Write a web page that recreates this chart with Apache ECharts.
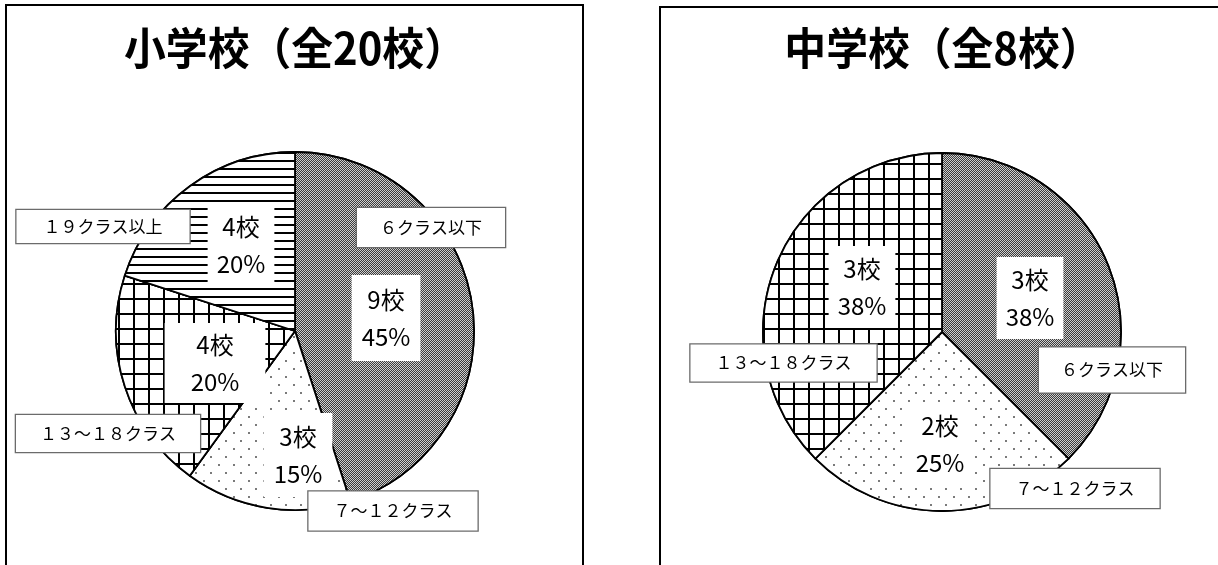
<!DOCTYPE html>
<html>
<head>
<meta charset="utf-8">
<script src="https://cdn.jsdelivr.net/npm/echarts@6/dist/echarts.min.js"></script>
<style>
  html, body { margin: 0; padding: 0; background: #fff; overflow: hidden; }
  #chart { width: 1218px; height: 565px; }
</style>
</head>
<body>
<div id="chart"></div>
<script>
// ---- data ----
const categories = ['６クラス以下', '７～１２クラス', '１３～１８クラス', '１９クラス以上'];
const elementaryCounts = [9, 3, 4, 4];
const juniorHighCounts = [3, 2, 3, 0];
const titles = ['小学校（全20校）', '中学校（全8校）'];
const unit = '校';

// ---- fill patterns, one per class-size band ----
const patterns = [
  // fine 50% dither
  { symbol: 'rect', symbolSize: 1, dashArrayX: [[1, 1], [0, 1, 1, 0]], dashArrayY: [1, 0], color: '#3c3c3c', backgroundColor: '#cfcfcf' },
  // staggered dots
  { symbol: 'rect', symbolSize: 0.8, dashArrayX: [[2, 13], [0, 8, 2, 5]], dashArrayY: [2, 6], color: '#222', backgroundColor: '#fff' },
  // square grid
  { symbol: 'rect', symbolSize: 1, dashArrayX: [13, 2], dashArrayY: [13, 2], color: '#fff', backgroundColor: '#000' },
  // horizontal rules
  { symbol: 'rect', symbolSize: 1, dashArrayX: [1, 0], dashArrayY: [2, 6], color: '#000', backgroundColor: '#fff' }
];

// ---- panel layout and label placement (px) ----
const layouts = [
  {
    center: [295, 331],
    radius: 179,
    valueSpots: { '６クラス以下': [386, 318], '７～１２クラス': [298, 455], '１３～１８クラス': [215, 363], '１９クラス以上': [241, 245] },
    valuePad:   { '６クラス以下': [6, 10], '７～１２クラス': [5, 10], '１３～１８クラス': [3, 26], '１９クラス以上': [4, 9] },
    nameSpots:  { '６クラス以下': [431, 227.5], '７～１２クラス': [393, 511], '１３～１８クラス': [108, 433.5], '１９クラス以上': [103, 226.5] },
    namePad:    { '６クラス以下': [10, 23], '７～１２クラス': [10, 25], '１３～１８クラス': [9, 24], '１９クラス以上': [7, 27] },
    titleX: 295
  },
  {
    center: [942, 332],
    radius: 179,
    valueSpots: { '６クラス以下': [1030, 298], '７～１２クラス': [940, 444], '１３～１８クラス': [862, 287] },
    valuePad:   { '６クラス以下': [4, 9], '７～１２クラス': [4, 9], '１３～１８クラス': [4, 9] },
    nameSpots:  { '６クラス以下': [1112, 370], '７～１２クラス': [1075, 488.5], '１３～１８クラス': [783.5, 363] },
    namePad:    { '６クラス以下': [13, 22], '７～１２クラス': [10, 25], '１３～１８クラス': [9, 25] },
    titleX: 943
  }
];

const FONT = '"Noto Sans CJK JP", "Noto Sans", sans-serif';

function buildSeries(counts, lay) {
  const items = [];
  categories.forEach((name, i) => {
    if (counts[i] > 0) items.push({ name, value: counts[i], idx: i });
  });

  const slices = {
    type: 'pie',
    center: lay.center,
    radius: lay.radius,
    startAngle: 90,
    clockwise: true,
    silent: true,
    animation: false,
    itemStyle: { borderColor: '#000', borderWidth: 1.8 },
    label: {
      show: true,
      position: 'inside',
      formatter: p => p.value + unit + '\n' + Math.round(p.percent) + '%',
      fontFamily: FONT,
      fontSize: 24,
      lineHeight: 37,
      color: '#000',
      backgroundColor: '#fff'
    },
    labelLine: { show: false },
    labelLayout: p => {
      const s = lay.valueSpots[items[p.dataIndex].name];
      return { x: s[0], y: s[1], align: 'center', verticalAlign: 'middle' };
    },
    data: items.map(d => ({
      name: d.name,
      value: d.value,
      itemStyle: { color: '#fff', decal: patterns[d.idx] },
      label: { padding: lay.valuePad[d.name] }
    }))
  };

  // second, invisible ring that carries the category captions
  const names = {
    type: 'pie',
    center: lay.center,
    radius: lay.radius,
    startAngle: 90,
    clockwise: true,
    silent: true,
    animation: false,
    itemStyle: { color: 'rgba(0,0,0,0)', borderWidth: 0 },
    label: {
      show: true,
      position: 'inside',
      formatter: '{b}',
      fontFamily: FONT,
      fontSize: 17,
      lineHeight: 19,
      color: '#000',
      backgroundColor: '#fff',
      borderColor: '#6b6b6b',
      borderWidth: 1.3
    },
    labelLine: { show: false },
    labelLayout: p => {
      const s = lay.nameSpots[items[p.dataIndex].name];
      return { x: s[0], y: s[1], align: 'center', verticalAlign: 'middle' };
    },
    data: items.map(d => ({
      name: d.name,
      value: d.value,
      label: { padding: lay.namePad[d.name] }
    }))
  };
  return [slices, names];
}

const chart = echarts.init(document.getElementById('chart'), null, { renderer: 'canvas' });
chart.setOption({
  animation: false,
  backgroundColor: '#fff',
  graphic: [
    { type: 'rect', shape: { x: 6, y: 5, width: 577, height: 640 }, style: { fill: 'none', stroke: '#000', lineWidth: 2 } },
    { type: 'rect', shape: { x: 660, y: 7, width: 640, height: 640 }, style: { fill: 'none', stroke: '#000', lineWidth: 2 } },
    { type: 'text', x: layouts[0].titleX, y: 48, scaleX: 0.95, style: { text: titles[0], fontFamily: FONT, fontWeight: 'bold', fontSize: 44, fill: '#000', align: 'center', verticalAlign: 'middle' } },
    { type: 'text', x: layouts[1].titleX, y: 48, scaleX: 0.95, style: { text: titles[1], fontFamily: FONT, fontWeight: 'bold', fontSize: 44, fill: '#000', align: 'center', verticalAlign: 'middle' } }
  ],
  series: [].concat(
    buildSeries(elementaryCounts, layouts[0]),
    buildSeries(juniorHighCounts, layouts[1])
  )
});
</script>
</body>
</html>
